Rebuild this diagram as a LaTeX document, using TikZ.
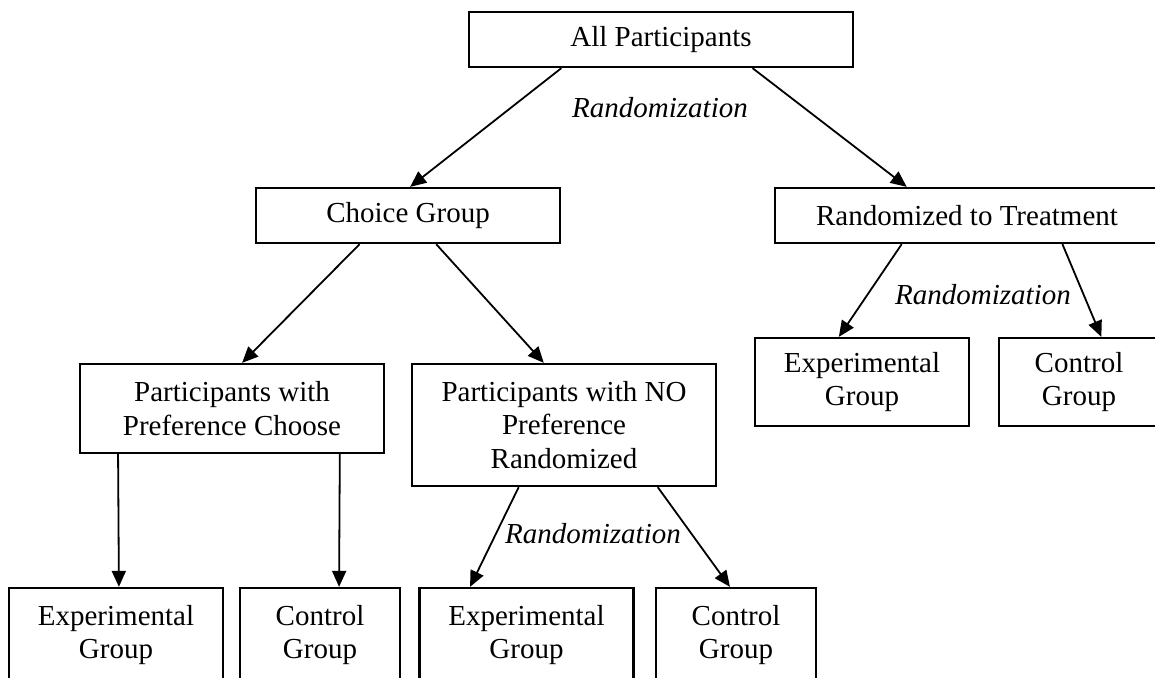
\documentclass[tikz,border=0pt]{standalone}
\usepackage{fontspec}
\setmainfont{Liberation Serif}
\usetikzlibrary{arrows.meta,calc}
\begin{document}
\begin{tikzpicture}[x=1pt,y=-1pt,
  box/.style={draw,line width=2.3pt,rectangle,inner sep=0pt,align=center,
    font=\fontsize{29}{33.5}\selectfont},
  wide/.style={box,minimum width=384pt,minimum height=55pt},
  mid/.style={box,minimum width=304pt},
  leaf/.style={box,minimum width=214pt,minimum height=#1},
  ctrl/.style={box,minimum width=160pt,minimum height=#1},
  lbl/.style={font=\fontsize{29}{33.5}\selectfont\itshape,inner sep=0pt},
  link/.style={line width=1.8pt,-{Triangle[length=16pt,width=14pt]}}]
\clip (0,0) rectangle (1155,677);

% top level
\node[wide] (all) at (661,39.5) {All Participants};
\node[lbl] (rtop) at (660,108) {Randomization};

% second level
\node[mid,minimum height=55pt] (choice) at (408,215.5) {Choice Group};
\node[wide] (rtt) at (967,215.5) {Randomized to Treatment};

% choice branch
\node[mid,minimum height=89pt] (pref) at (232,408.5) {Participants with\\Preference Choose};
\node[mid,minimum height=122pt] (nopref) at (564,425) {Participants with NO\\Preference\\Randomized};

% bottom row
\node[leaf=94pt] (exp1) at (116,635) {Experimental\\Group};
\node[ctrl=94pt] (ctl1) at (320,635) {Control\\Group};
\node[leaf=94pt] (exp2) at (526.5,635) {Experimental\\Group};
\node[ctrl=94pt] (ctl2) at (736,635) {Control\\Group};
\node[lbl] (rno) at (593,534) {Randomization};

% randomized branch
\node[leaf=88pt] (exp3) at (862,382) {Experimental\\Group};
\node[ctrl=88pt] (ctl3) at (1079,382) {Control\\Group};
\node[lbl] (rrt) at (983,295) {Randomization};

% connectors
\draw[link] ($(all.south west)!0.242!(all.south east)$) -- ($(choice.north west)!0.507!(choice.north east)$);
\draw[link] ($(all.south west)!0.737!(all.south east)$) -- ($(rtt.north west)!0.344!(rtt.north east)$);

\draw[link] ($(choice.south west)!0.342!(choice.south east)$) -- ($(pref.north west)!0.533!(pref.north east)$);
\draw[link] ($(choice.south west)!0.592!(choice.south east)$) -- ($(nopref.north west)!0.434!(nopref.north east)$);

\draw[link] ($(pref.south west)!0.128!(pref.south east)$) -- ($(exp1.north west)!0.5135!(exp1.north east)$);
\draw[link] ($(pref.south west)!0.852!(pref.south east)$) -- ($(ctl1.north west)!0.6175!(ctl1.north east)$);

\draw[link] ($(nopref.south west)!0.352!(nopref.south east)$) -- ($(exp2.north west)!0.239!(exp2.north east)$);
\draw[link] ($(nopref.south west)!0.806!(nopref.south east)$) -- ($(ctl2.north west)!0.4625!(ctl2.north east)$);

\draw[link] ($(rtt.south west)!0.331!(rtt.south east)$) -- ($(exp3.north west)!0.393!(exp3.north east)$);
\draw[link] ($(rtt.south west)!0.747!(rtt.south east)$) -- ($(ctl3.north west)!0.6375!(ctl3.north east)$);
\end{tikzpicture}
\end{document}
